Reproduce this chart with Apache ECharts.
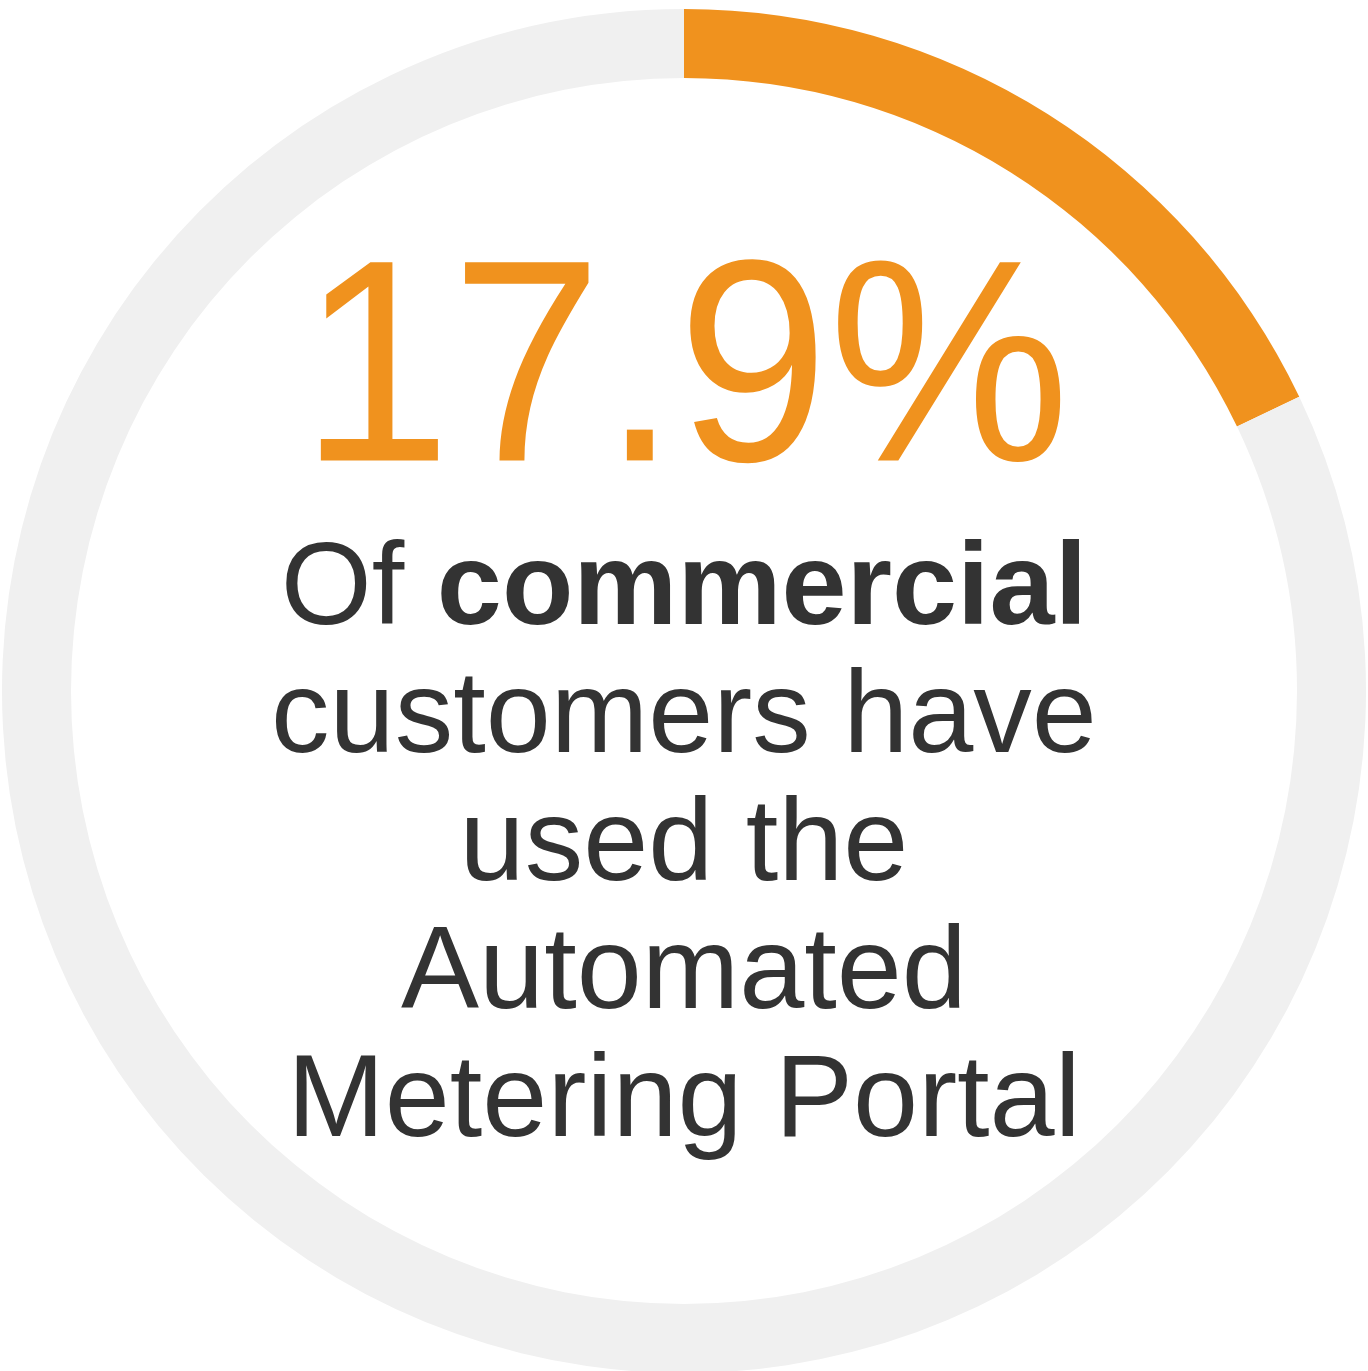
<!DOCTYPE html>
<html>
<head>
<meta charset="utf-8">
<script src="https://cdn.jsdelivr.net/npm/echarts@6/dist/echarts.min.js"></script>
<style>
  html, body { margin: 0; padding: 0; background: #ffffff; }
  #chart { width: 1368px; height: 1371px; }
</style>
</head>
<body>
<div id="chart"></div>
<script>
// Share of commercial customers who used the portal (percent)
const categories = ['Used the portal', 'Not yet'];
const shareUsed = 17.9;
const values = [shareUsed, +(100 - shareUsed).toFixed(1)];
const ringColors = ['#F0921E', '#F0F0F0'];

// Caption lines under the headline figure
const captionLines = ['customers have', 'used the', 'Automated', 'Metering Portal'];

const chart = echarts.init(document.getElementById('chart'), null, { renderer: 'canvas' });

const font = '"Liberation Sans", Arial, Helvetica, sans-serif';
const textColor = '#333333';
const cx = 684, cy = 691;

const captionGraphics = captionLines.map((line, i) => ({
  type: 'text',
  x: cx,
  y: 720 + i * 128,
  style: {
    text: line,
    fill: textColor,
    font: '117px ' + font,
    textAlign: 'center',
    textVerticalAlign: 'middle'
  }
}));

chart.setOption({
  animation: false,
  backgroundColor: '#ffffff',
  series: [{
    type: 'pie',
    silent: true,
    center: [cx, cy],
    radius: [613, 682],
    startAngle: 90,
    clockwise: true,
    label: { show: false },
    labelLine: { show: false },
    itemStyle: { borderWidth: 0 },
    data: categories.map((name, i) => ({
      name,
      value: values[i],
      itemStyle: { color: ringColors[i] }
    }))
  }],
  graphic: [
    {
      // headline percentage, slightly condensed
      type: 'text',
      x: 685,
      y: 381,
      scaleX: 0.9425,
      style: {
        text: shareUsed.toFixed(1) + '%',
        fill: '#F0921E',
        font: '288px ' + font,
        textAlign: 'center',
        textVerticalAlign: 'middle'
      }
    },
    {
      type: 'text',
      x: cx,
      y: 592,
      style: {
        text: '{r|Of }{b|commercial}',
        textAlign: 'center',
        textVerticalAlign: 'middle',
        rich: {
          r: { fontSize: 117, fontFamily: font, color: textColor, fill: textColor },
          b: { fontSize: 117, fontFamily: font, fontWeight: 'bold', color: textColor, fill: textColor }
        }
      }
    }
  ].concat(captionGraphics)
});
</script>
</body>
</html>
